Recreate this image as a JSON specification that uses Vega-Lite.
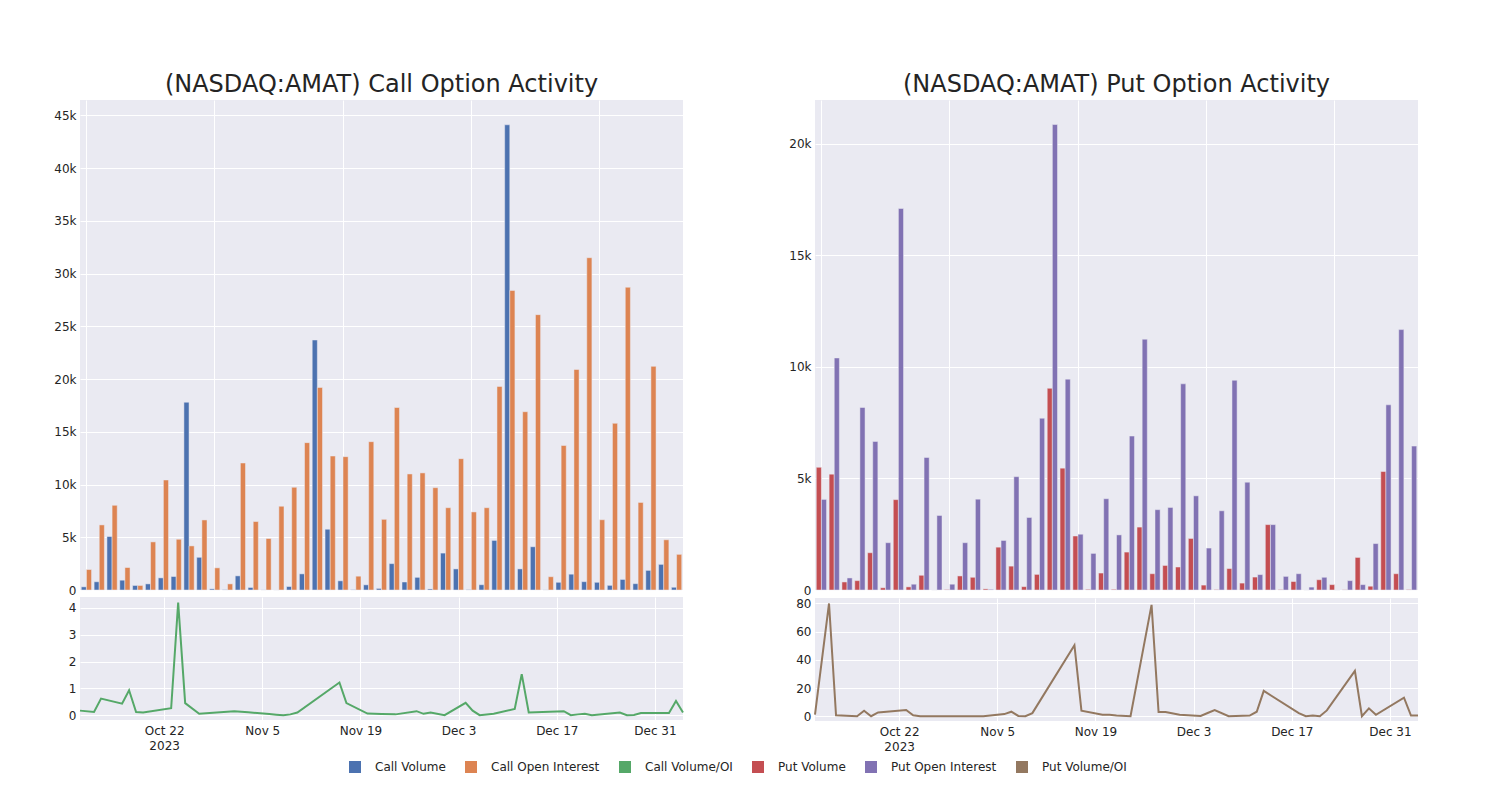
{
  "$schema": "https://vega.github.io/schema/vega-lite/v6.json",
  "background": "white",
  "padding": {"left": 53, "top": 73, "right": 10, "bottom": 10},
  "config": {
    "font": "DejaVu Sans",
    "view": {"fill": "#EAEAF2", "stroke": null},
    "axis": {"gridColor": "white", "gridWidth": 1, "domain": false, "ticks": false, "labelColor": "#242424", "labelFontSize": 12, "labelPadding": 4, "title": null},
    "title": {"fontSize": 24, "fontWeight": "normal", "color": "#242424", "offset": 3},
    "legend": {"orient": "bottom", "direction": "horizontal", "labelFontSize": 12, "labelColor": "#242424", "symbolType": "square", "symbolSize": 144, "symbolStrokeWidth": 0, "labelOffset": 14, "columnPadding": 19, "offset": 9, "layout": {"bottom": {"anchor": "middle"}}}
  },
  "data": {"values": [
    {"date": "2023-10-10", "Call Volume": 300, "Call Open Interest": 1940, "Call Volume/OI": 0.17, "Put Volume": 5500, "Put Open Interest": 4060, "Put Volume/OI": 1.2},
    {"date": "2023-10-12", "Call Volume": 780, "Call Open Interest": 6170, "Call Volume/OI": 0.12, "Put Volume": 5190, "Put Open Interest": 10400, "Put Volume/OI": 80},
    {"date": "2023-10-13", "Call Volume": 5070, "Call Open Interest": 8030, "Call Volume/OI": 0.62, "Put Volume": 360, "Put Open Interest": 540, "Put Volume/OI": 0.7},
    {"date": "2023-10-16", "Call Volume": 930, "Call Open Interest": 2130, "Call Volume/OI": 0.43, "Put Volume": 420, "Put Open Interest": 8180, "Put Volume/OI": 0},
    {"date": "2023-10-17", "Call Volume": 430, "Call Open Interest": 430, "Call Volume/OI": 0.93, "Put Volume": 1670, "Put Open Interest": 6660, "Put Volume/OI": 3.9},
    {"date": "2023-10-18", "Call Volume": 580, "Call Open Interest": 4560, "Call Volume/OI": 0.12, "Put Volume": 100, "Put Open Interest": 2120, "Put Volume/OI": 0},
    {"date": "2023-10-19", "Call Volume": 1150, "Call Open Interest": 10430, "Call Volume/OI": 0.1, "Put Volume": 4050, "Put Open Interest": 17100, "Put Volume/OI": 2.7},
    {"date": "2023-10-23", "Call Volume": 1280, "Call Open Interest": 4810, "Call Volume/OI": 0.26, "Put Volume": 140, "Put Open Interest": 260, "Put Volume/OI": 4.4},
    {"date": "2023-10-24", "Call Volume": 17800, "Call Open Interest": 4180, "Call Volume/OI": 4.2, "Put Volume": 660, "Put Open Interest": 5940, "Put Volume/OI": 0.7},
    {"date": "2023-10-25", "Call Volume": 3100, "Call Open Interest": 6640, "Call Volume/OI": 0.45, "Put Volume": 0, "Put Open Interest": 3340, "Put Volume/OI": 0},
    {"date": "2023-10-27", "Call Volume": 110, "Call Open Interest": 2100, "Call Volume/OI": 0.05, "Put Volume": 20, "Put Open Interest": 260, "Put Volume/OI": 0},
    {"date": "2023-11-01", "Call Volume": 30, "Call Open Interest": 580, "Call Volume/OI": 0.15, "Put Volume": 630, "Put Open Interest": 2120, "Put Volume/OI": 0},
    {"date": "2023-11-03", "Call Volume": 1340, "Call Open Interest": 12040, "Call Volume/OI": 0.11, "Put Volume": 570, "Put Open Interest": 4070, "Put Volume/OI": 0},
    {"date": "2023-11-06", "Call Volume": 240, "Call Open Interest": 6490, "Call Volume/OI": 0.04, "Put Volume": 50, "Put Open Interest": 30, "Put Volume/OI": 1.5},
    {"date": "2023-11-07", "Call Volume": 10, "Call Open Interest": 4880, "Call Volume/OI": 0.02, "Put Volume": 1920, "Put Open Interest": 2220, "Put Volume/OI": 3.2},
    {"date": "2023-11-08", "Call Volume": 0, "Call Open Interest": 7940, "Call Volume/OI": 0, "Put Volume": 1070, "Put Open Interest": 5080, "Put Volume/OI": 0.2},
    {"date": "2023-11-09", "Call Volume": 330, "Call Open Interest": 9740, "Call Volume/OI": 0.03, "Put Volume": 150, "Put Open Interest": 3250, "Put Volume/OI": 0},
    {"date": "2023-11-10", "Call Volume": 1530, "Call Open Interest": 13970, "Call Volume/OI": 0.1, "Put Volume": 700, "Put Open Interest": 7700, "Put Volume/OI": 2.2},
    {"date": "2023-11-16", "Call Volume": 23700, "Call Open Interest": 19200, "Call Volume/OI": 1.22, "Put Volume": 9040, "Put Open Interest": 20860, "Put Volume/OI": 50.4},
    {"date": "2023-11-17", "Call Volume": 5760, "Call Open Interest": 12700, "Call Volume/OI": 0.45, "Put Volume": 5460, "Put Open Interest": 9450, "Put Volume/OI": 3.9},
    {"date": "2023-11-20", "Call Volume": 870, "Call Open Interest": 12640, "Call Volume/OI": 0.06, "Put Volume": 2420, "Put Open Interest": 2500, "Put Volume/OI": 1},
    {"date": "2023-11-21", "Call Volume": 30, "Call Open Interest": 1310, "Call Volume/OI": 0.05, "Put Volume": 30, "Put Open Interest": 1640, "Put Volume/OI": 1},
    {"date": "2023-11-22", "Call Volume": 490, "Call Open Interest": 14060, "Call Volume/OI": 0.04, "Put Volume": 760, "Put Open Interest": 4090, "Put Volume/OI": 0.5},
    {"date": "2023-11-24", "Call Volume": 150, "Call Open Interest": 6700, "Call Volume/OI": 0.03, "Put Volume": 30, "Put Open Interest": 2470, "Put Volume/OI": 0},
    {"date": "2023-11-27", "Call Volume": 2500, "Call Open Interest": 17300, "Call Volume/OI": 0.15, "Put Volume": 1700, "Put Open Interest": 6900, "Put Volume/OI": 79},
    {"date": "2023-11-28", "Call Volume": 760, "Call Open Interest": 11000, "Call Volume/OI": 0.05, "Put Volume": 2820, "Put Open Interest": 11240, "Put Volume/OI": 2.9},
    {"date": "2023-11-29", "Call Volume": 1200, "Call Open Interest": 11100, "Call Volume/OI": 0.1, "Put Volume": 730, "Put Open Interest": 3600, "Put Volume/OI": 2.9},
    {"date": "2023-12-01", "Call Volume": 100, "Call Open Interest": 9700, "Call Volume/OI": 0, "Put Volume": 1100, "Put Open Interest": 3700, "Put Volume/OI": 1},
    {"date": "2023-12-04", "Call Volume": 3500, "Call Open Interest": 7800, "Call Volume/OI": 0.46, "Put Volume": 1030, "Put Open Interest": 9240, "Put Volume/OI": 0.2},
    {"date": "2023-12-05", "Call Volume": 2000, "Call Open Interest": 12450, "Call Volume/OI": 0.17, "Put Volume": 2310, "Put Open Interest": 4220, "Put Volume/OI": 2.3},
    {"date": "2023-12-06", "Call Volume": 30, "Call Open Interest": 7400, "Call Volume/OI": 0, "Put Volume": 220, "Put Open Interest": 1880, "Put Volume/OI": 4.4},
    {"date": "2023-12-08", "Call Volume": 500, "Call Open Interest": 7800, "Call Volume/OI": 0.05, "Put Volume": 20, "Put Open Interest": 3550, "Put Volume/OI": 0},
    {"date": "2023-12-11", "Call Volume": 4700, "Call Open Interest": 19300, "Call Volume/OI": 0.23, "Put Volume": 960, "Put Open Interest": 9400, "Put Volume/OI": 0.5},
    {"date": "2023-12-12", "Call Volume": 44100, "Call Open Interest": 28400, "Call Volume/OI": 1.53, "Put Volume": 310, "Put Open Interest": 4830, "Put Volume/OI": 3.2},
    {"date": "2023-12-13", "Call Volume": 2000, "Call Open Interest": 16900, "Call Volume/OI": 0.1, "Put Volume": 580, "Put Open Interest": 690, "Put Volume/OI": 18},
    {"date": "2023-12-18", "Call Volume": 4100, "Call Open Interest": 26100, "Call Volume/OI": 0.15, "Put Volume": 2930, "Put Open Interest": 2930, "Put Volume/OI": 2.2},
    {"date": "2023-12-19", "Call Volume": 10, "Call Open Interest": 1260, "Call Volume/OI": 0, "Put Volume": 20, "Put Open Interest": 610, "Put Volume/OI": 0},
    {"date": "2023-12-20", "Call Volume": 730, "Call Open Interest": 13700, "Call Volume/OI": 0.03, "Put Volume": 380, "Put Open Interest": 730, "Put Volume/OI": 0.5},
    {"date": "2023-12-21", "Call Volume": 1500, "Call Open Interest": 20900, "Call Volume/OI": 0.05, "Put Volume": 0, "Put Open Interest": 130, "Put Volume/OI": 0},
    {"date": "2023-12-22", "Call Volume": 790, "Call Open Interest": 31500, "Call Volume/OI": 0, "Put Volume": 460, "Put Open Interest": 570, "Put Volume/OI": 4.1},
    {"date": "2023-12-26", "Call Volume": 730, "Call Open Interest": 6660, "Call Volume/OI": 0.1, "Put Volume": 240, "Put Open Interest": 0, "Put Volume/OI": 32.2},
    {"date": "2023-12-27", "Call Volume": 440, "Call Open Interest": 15800, "Call Volume/OI": 0, "Put Volume": 10, "Put Open Interest": 420, "Put Volume/OI": 0},
    {"date": "2023-12-28", "Call Volume": 1000, "Call Open Interest": 28700, "Call Volume/OI": 0.01, "Put Volume": 1460, "Put Open Interest": 240, "Put Volume/OI": 5.6},
    {"date": "2023-12-29", "Call Volume": 600, "Call Open Interest": 8300, "Call Volume/OI": 0.08, "Put Volume": 170, "Put Open Interest": 2080, "Put Volume/OI": 1},
    {"date": "2024-01-02", "Call Volume": 1860, "Call Open Interest": 21200, "Call Volume/OI": 0.08, "Put Volume": 5310, "Put Open Interest": 8300, "Put Volume/OI": 13.1},
    {"date": "2024-01-03", "Call Volume": 2430, "Call Open Interest": 4760, "Call Volume/OI": 0.53, "Put Volume": 730, "Put Open Interest": 11670, "Put Volume/OI": 0.5},
    {"date": "2024-01-04", "Call Volume": 260, "Call Open Interest": 3380, "Call Volume/OI": 0.1, "Put Volume": 20, "Put Open Interest": 6450, "Put Volume/OI": 0.5}
  ]},
  "spacing": 101,
  "resolve": {"scale": {"color": "shared"}},
  "hconcat": [
    {
      "spacing": 1,
      "vconcat": [
        {
          "title": "(NASDAQ:AMAT) Call Option Activity",
          "width": 603, "height": 490,
          "encoding": {
            "x": {"field": "date", "timeUnit": "utcyearmonthdate", "type": "ordinal", "scale": {"paddingInner": 0.2, "paddingOuter": 0.1},
                  "axis": {"labels": false, "grid": true, "values": [
                    {"year": 2023, "month": 10, "date": 10, "utc": true},
                    {"year": 2023, "month": 10, "date": 27, "utc": true},
                    {"year": 2023, "month": 11, "date": 20, "utc": true},
                    {"year": 2023, "month": 12, "date": 6, "utc": true},
                    {"year": 2023, "month": 12, "date": 26, "utc": true}]}},
            "y": {"field": "value", "type": "quantitative", "scale": {"domain": [0, 46450], "nice": false}, "axis": {"values": [0, 5000, 10000, 15000, 20000, 25000, 30000, 35000, 40000, 45000], "labelExpr": "datum.value == 0 ? '0' : (datum.value / 1000) + 'k'"}},
            "color": {"field": "series", "type": "nominal",
              "scale": {"domain": ["Call Volume", "Call Open Interest", "Call Volume/OI", "Put Volume", "Put Open Interest", "Put Volume/OI"], "range": ["#4C72B0", "#DD8452", "#55A868", "#C44E52", "#8172B3", "#937860"]},
              "legend": {"title": null, "encode": {"symbols": {"update": {
                "shape": {"signal": "indexof(datum.value, '/') >= 0 ? 'stroke' : 'square'"},
                "size": {"signal": "indexof(datum.value, '/') >= 0 ? 900 : 144"},
                "stroke": {"signal": "datum.value == 'Call Volume/OI' ? '#55A868' : '#937860'"},
                "strokeWidth": {"signal": "indexof(datum.value, '/') >= 0 ? 2 : 0"}}}}}}
          },
          "layer": [
            {
              "transform": [{"fold": ["Call Volume"], "as": ["series", "value"]}],
              "mark": {"type": "bar", "width": 5.13, "xOffset": -2.57, "stroke": "#EAEAF2", "strokeWidth": 0.5}
            },
            {
              "transform": [{"fold": ["Call Open Interest"], "as": ["series", "value"]}],
              "mark": {"type": "bar", "width": 5.13, "xOffset": 2.57, "stroke": "#EAEAF2", "strokeWidth": 0.5}
            }
          ]
        },
        {
          "width": 603, "height": 123,
          "transform": [{"fold": ["Call Volume/OI"], "as": ["series", "value"]}],
          "mark": {"type": "line", "strokeWidth": 2},
          "encoding": {
            "x": {"field": "date", "type": "temporal",
                  "scale": {"type": "utc", "domain": [{"year": 2023, "month": 10, "date": 10, "utc": true}, {"year": 2024, "month": 1, "date": 4, "utc": true}]},
                  "axis": {"grid": true, "values": [
                    {"year": 2023, "month": 10, "date": 22, "utc": true},
                    {"year": 2023, "month": 11, "date": 5, "utc": true},
                    {"year": 2023, "month": 11, "date": 19, "utc": true},
                    {"year": 2023, "month": 12, "date": 3, "utc": true},
                    {"year": 2023, "month": 12, "date": 17, "utc": true},
                    {"year": 2023, "month": 12, "date": 31, "utc": true}],
                    "labelExpr": "utcFormat(datum.value, '%b %-d') == 'Oct 22' ? ['Oct 22', '2023'] : utcFormat(datum.value, '%b %-d')", "labelLineHeight": 15, "labelPadding": 5}},
            "y": {"field": "value", "type": "quantitative", "scale": {"domain": [-0.18, 4.41], "nice": false, "zero": false}, "axis": {"values": [0, 1, 2, 3, 4]}},
            "color": {"field": "series", "type": "nominal", "legend": null}
          }
        }
      ]
    },
    {
      "spacing": 1,
      "vconcat": [
        {
          "title": "(NASDAQ:AMAT) Put Option Activity",
          "width": 603, "height": 490,
          "encoding": {
            "x": {"field": "date", "timeUnit": "utcyearmonthdate", "type": "ordinal", "scale": {"paddingInner": 0.2, "paddingOuter": 0.1},
                  "axis": {"labels": false, "grid": true, "values": [
                    {"year": 2023, "month": 10, "date": 10, "utc": true},
                    {"year": 2023, "month": 10, "date": 27, "utc": true},
                    {"year": 2023, "month": 11, "date": 20, "utc": true},
                    {"year": 2023, "month": 12, "date": 6, "utc": true},
                    {"year": 2023, "month": 12, "date": 26, "utc": true}]}},
            "y": {"field": "value", "type": "quantitative", "scale": {"domain": [0, 21960], "nice": false}, "axis": {"values": [0, 5000, 10000, 15000, 20000], "labelExpr": "datum.value == 0 ? '0' : (datum.value / 1000) + 'k'"}},
            "color": {"field": "series", "type": "nominal", "legend": null}
          },
          "layer": [
            {
              "transform": [{"fold": ["Put Volume"], "as": ["series", "value"]}],
              "mark": {"type": "bar", "width": 5.13, "xOffset": -2.57, "stroke": "#EAEAF2", "strokeWidth": 0.5}
            },
            {
              "transform": [{"fold": ["Put Open Interest"], "as": ["series", "value"]}],
              "mark": {"type": "bar", "width": 5.13, "xOffset": 2.57, "stroke": "#EAEAF2", "strokeWidth": 0.5}
            }
          ]
        },
        {
          "width": 603, "height": 123,
          "transform": [{"fold": ["Put Volume/OI"], "as": ["series", "value"]}],
          "mark": {"type": "line", "strokeWidth": 2},
          "encoding": {
            "x": {"field": "date", "type": "temporal",
                  "scale": {"type": "utc", "domain": [{"year": 2023, "month": 10, "date": 10, "utc": true}, {"year": 2024, "month": 1, "date": 4, "utc": true}]},
                  "axis": {"grid": true, "values": [
                    {"year": 2023, "month": 10, "date": 22, "utc": true},
                    {"year": 2023, "month": 11, "date": 5, "utc": true},
                    {"year": 2023, "month": 11, "date": 19, "utc": true},
                    {"year": 2023, "month": 12, "date": 3, "utc": true},
                    {"year": 2023, "month": 12, "date": 17, "utc": true},
                    {"year": 2023, "month": 12, "date": 31, "utc": true}],
                    "labelExpr": "utcFormat(datum.value, '%b %-d') == 'Oct 22' ? ['Oct 22', '2023'] : utcFormat(datum.value, '%b %-d')", "labelLineHeight": 15, "labelPadding": 5}},
            "y": {"field": "value", "type": "quantitative", "scale": {"domain": [-3.4, 83.9], "nice": false, "zero": false}, "axis": {"values": [0, 20, 40, 60, 80]}},
            "color": {"field": "series", "type": "nominal", "legend": null}
          }
        }
      ]
    }
  ]
}
